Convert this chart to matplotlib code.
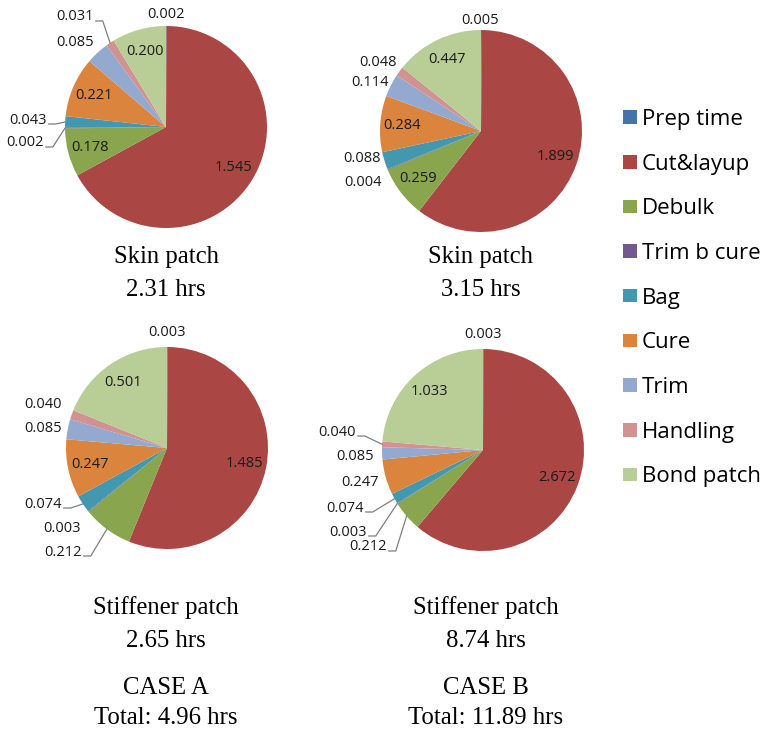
import matplotlib
matplotlib.use("Agg")
import matplotlib.pyplot as plt
import numpy as np

# task breakdown, hours per step (clockwise from 12 o'clock)
steps = ["Prep time", "Cut&layup", "Debulk", "Trim b cure", "Bag",
         "Cure", "Trim", "Handling", "Bond patch"]
colors = ["#4572A7", "#AA4643", "#89A54E", "#71588F", "#4198AF",
          "#DB843D", "#93A9CF", "#D19392", "#B9CD96"]

skin_a = [0.002, 1.545, 0.178, 0.002, 0.043, 0.221, 0.085, 0.031, 0.200]
skin_b = [0.005, 1.899, 0.259, 0.004, 0.088, 0.284, 0.114, 0.048, 0.447]
stiff_a = [0.003, 1.485, 0.212, 0.003, 0.074, 0.247, 0.085, 0.040, 0.501]
stiff_b = [0.003, 2.672, 0.212, 0.003, 0.074, 0.247, 0.085, 0.040, 1.033]

captions = [["Skin patch", "2.31 hrs"],
            ["Skin patch", "3.15 hrs"],
            ["Stiffener patch", "2.65 hrs", "CASE A", "Total: 4.96 hrs"],
            ["Stiffener patch", "8.74 hrs", "CASE B", "Total: 11.89 hrs"]]

W, H = 767, 731
R = 101
# pie centres and caption x, in pixels from top-left
centres = [(166, 127), (481, 131), (167, 448), (483, 450)]
caption_x = [166, 481, 166, 486]
caption_y = [[257, 290], [257, 290], [608, 641, 688, 718], [608, 641, 688, 718]]

# labels placed outside the pie: index -> (x, y, leader?)
outside = [
    {0: (166, 15, False), 3: (25, 143, True), 4: (28, 120, True),
     6: (75, 43, False), 7: (75, 17, True)},
    {0: (480, 20, False), 3: (363, 182, False), 4: (362, 158, False),
     6: (370, 83, False), 7: (378, 62, False)},
    {0: (167, 333, False), 2: (63, 552, True), 3: (62, 529, False),
     4: (43, 504, True), 6: (43, 428, False), 7: (43, 404, False)},
    {0: (483, 335, False), 2: (368, 547, True), 3: (348, 532, True),
     4: (345, 508, True), 5: (360, 482, False), 6: (355, 457, False),
     7: (337, 432, True)},
]

label_font = "Open Sans"
serif = "Liberation Serif"

fig = plt.figure(figsize=(W / 100, H / 100), dpi=100)
ax = fig.add_axes([0, 0, 1, 1])
renderer = fig.canvas.get_renderer()

wedges_first = None
for k, vals in enumerate([skin_a, skin_b, stiff_a, stiff_b]):
    cx, cy = centres[k]
    wedges, _ = ax.pie(vals, center=(cx, H - cy), radius=R, startangle=90,
                       counterclock=False, colors=colors,
                       wedgeprops=dict(linewidth=0))
    if wedges_first is None:
        wedges_first = wedges
    total = sum(vals)
    cum = 0.0
    for i, v in enumerate(vals):
        mid = 90 - (cum + v / 2) / total * 360
        cum += v
        a = np.deg2rad(mid)
        txt = f"{v:.3f}"
        if i in outside[k]:
            tx, ty, leader = outside[k][i]
            t = ax.text(tx, H - ty, txt, ha="center", va="center",
                        fontsize=10.5, family=label_font, color="#1a1a1a")
            if leader:
                # text width in pixels = data units here (1 unit per px)
                wpx = t.get_window_extent(renderer).width
                x0 = tx + wpx / 2 + 2
                y0 = H - ty - 4
                ex = cx + R * np.cos(a)
                ey = H - cy + R * np.sin(a)
                ax.plot([x0, x0 + 7, ex], [y0, y0, ey], color="#7f7f7f",
                        lw=0.9, solid_joinstyle="miter")
        else:
            lx = cx + 0.78 * R * np.cos(a)
            ly = H - cy + 0.78 * R * np.sin(a)
            ax.text(lx, ly, txt, ha="center", va="center",
                    fontsize=10.5, family=label_font, color="#1a1a1a")

    for line, y in zip(captions[k], caption_y[k]):
        ax.text(caption_x[k], H - y, line, ha="center", va="center",
                fontsize=17.8, family=serif, color="black")

ax.legend(wedges_first, steps, loc="upper left",
          bbox_to_anchor=(623 / W, 1 - 109 / H), frameon=False,
          prop=dict(family=label_font, size=16),
          handlelength=0.64, handleheight=0.55, handletextpad=0.22,
          labelspacing=1.065, borderpad=0, borderaxespad=0)

ax.set_xlim(0, W)
ax.set_ylim(0, H)
ax.set_aspect("equal")
ax.axis("off")

fig.savefig("out.png", dpi=100)
